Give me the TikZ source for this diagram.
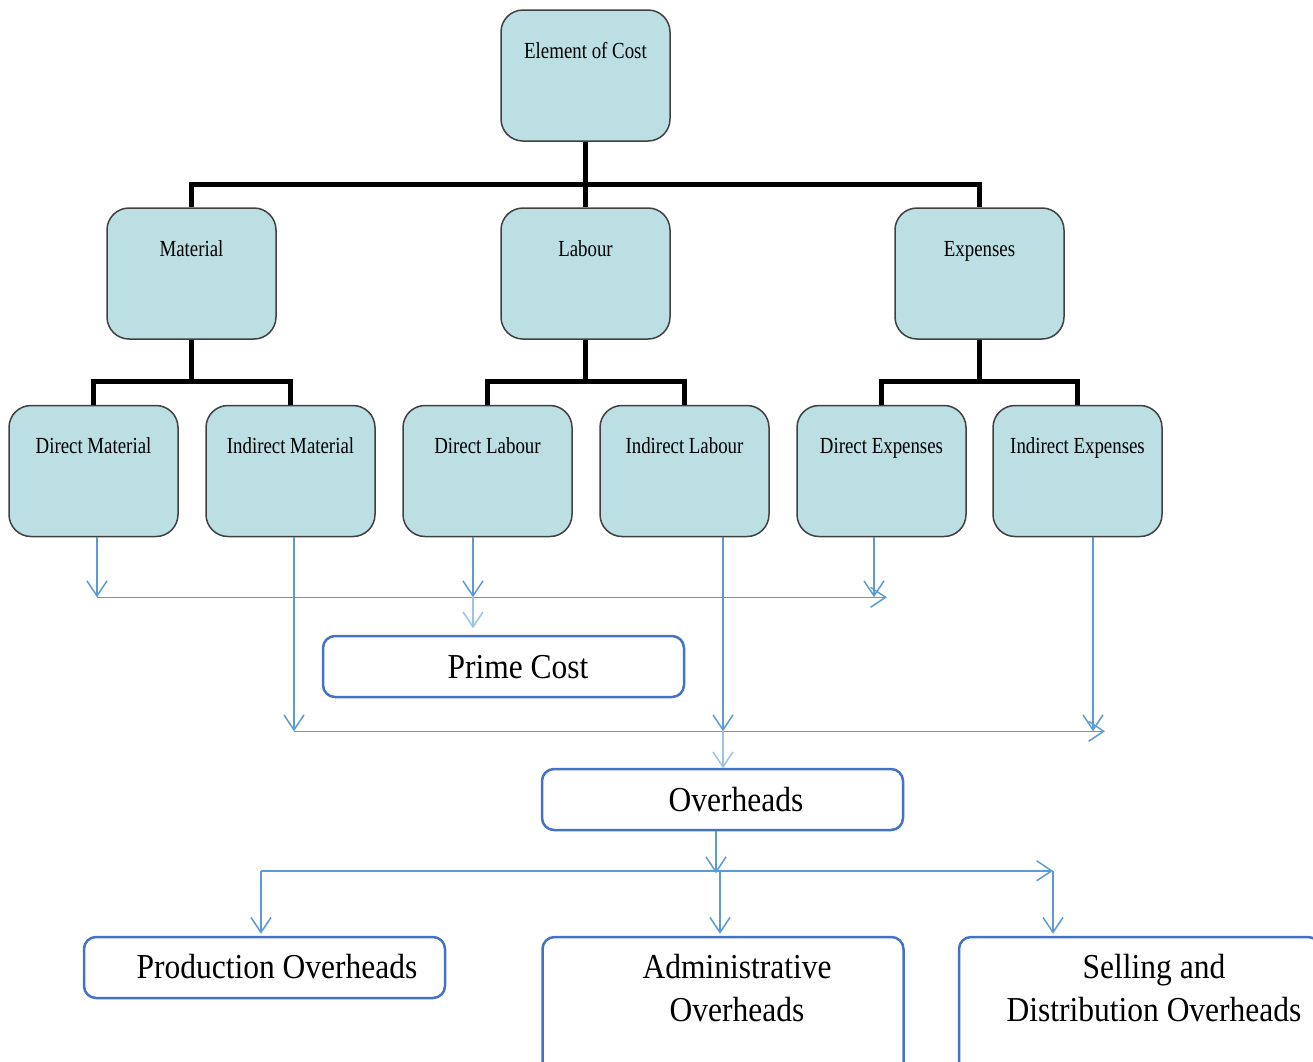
\documentclass[tikz,border=0pt]{standalone}
\usepackage{fontspec}
\setmainfont{Liberation Serif}
\newfontfamily\boxserif[FakeStretch=0.82]{Liberation Serif}
\newfontfamily\sumserif[FakeStretch=0.9]{Liberation Serif}
\usetikzlibrary{arrows.meta,calc}

\definecolor{tealfill}{HTML}{BBDFE3}
\definecolor{boxedge}{HTML}{404040}
\definecolor{sumedge}{HTML}{4472C4}
\definecolor{flowblue}{HTML}{5B9BD5}
\definecolor{flowpale}{HTML}{9DC3E6}

\tikzset{
  costbox/.style={draw=boxedge, fill=tealfill, line width=1.5pt, rounded corners=22pt,
    minimum width=169pt, minimum height=131pt, inner sep=0pt},
  costlabel/.style={font=\boxserif\fontsize{23}{23}\selectfont, anchor=base, inner sep=0pt},
  sumbox/.style={draw=sumedge, fill=white, line width=2.5pt, rounded corners=12pt,
    minimum width=361pt, minimum height=61pt, inner sep=0pt},
  sumlabel/.style={font=\sumserif\fontsize{35}{43}\selectfont, anchor=base, inner sep=0pt, align=center},
  tree/.style={line width=5pt, black},
  flow/.style={draw=flowblue, line width=1.5pt, -{Straight Barb[length=15pt, width=20pt]}},
  flowlite/.style={flow, draw=flowpale},
}

\begin{document}
\begin{tikzpicture}[x=1pt, y=-1pt]
\useasboundingbox (0,0) rectangle (1313,1061);
\clip (0,0) rectangle (1313,1061);

% cost elements
\node[costbox] (ec)  at (585.5, 75.5) {};
\node[costbox] (mat) at (191.5,273.5) {};
\node[costbox] (lab) at (585.5,273.5) {};
\node[costbox] (exp) at (979.5,273.5) {};
\node[costbox] (dm)  at (93.5, 471) {};
\node[costbox] (im)  at (290.5,471) {};
\node[costbox] (dl)  at (487.5,471) {};
\node[costbox] (il)  at (684.5,471) {};
\node[costbox] (de)  at (881.5,471) {};
\node[costbox] (ie)  at (1077.5,471) {};

\node[costlabel] at ($(ec.north)+(0,49)$)  {Element of Cost};
\node[costlabel] at ($(mat.north)+(0,49)$) {Material};
\node[costlabel] at ($(lab.north)+(0,49)$) {Labour};
\node[costlabel] at ($(exp.north)+(0,49)$) {Expenses};
\node[costlabel] at ($(dm.north)+(0,49)$)  {Direct Material};
\node[costlabel] at ($(im.north)+(0,49)$)  {Indirect Material};
\node[costlabel] at ($(dl.north)+(0,49)$)  {Direct Labour};
\node[costlabel] at ($(il.north)+(0,49)$)  {Indirect Labour};
\node[costlabel] at ($(de.north)+(0,49)$)  {Direct Expenses};
\node[costlabel] at ($(ie.north)+(0,49)$)  {Indirect Expenses};

% tree connectors
\coordinate (j0) at ($(ec.south)+(0,43)$);
\draw[tree] (ec.south) -- (lab.north);
\draw[tree] (mat.north) |- (j0) -| (exp.north);
\coordinate (j1) at ($(mat.south)+(0,42)$);
\draw[tree] (mat.south) -- (j1);
\draw[tree] (dm.north) |- (j1) -| (im.north);
\coordinate (j2) at ($(lab.south)+(0,42)$);
\draw[tree] (lab.south) -- (j2);
\draw[tree] (dl.north) |- (j2) -| (il.north);
\coordinate (j3) at ($(exp.south)+(0,42)$);
\draw[tree] (exp.south) -- (j3);
\draw[tree] (de.north) |- (j3) -| (ie.north);

% summary boxes
\node[sumbox] (pc) at (503.5,666.5) {};
\node[sumbox] (ov) at (722.5,799.5) {};
\node[sumbox] (po) at (264.5,967.5) {};
\node[sumbox, minimum height=140pt] (ao) at (723,1007) {};
\node[sumbox, minimum height=140pt] (sd) at (1139.5,1007) {};

\node[sumlabel] at ($(pc.south)+(14.5,-20)$) {Prime Cost};
\node[sumlabel] at ($(ov.south)+(13.5,-20)$) {Overheads};
\node[sumlabel] at ($(po.south)+(12.5,-21)$) {Production Overheads};
\node[sumlabel] at ($(ao.north)+(14,86)$) {Administrative\\Overheads};
\node[sumlabel] at ($(sd.north)+(14.5,86)$) {Selling and\\Distribution Overheads};

% prime cost flows
\coordinate (a1) at ($(dm.south)+(3.5,60)$);
\coordinate (a2) at ($(dl.south)+(-14.5,60)$);
\coordinate (a3) at ($(de.south)+(-7.5,60)$);
\coordinate (a4) at ($(de.south)+(5.5,60)$);
\draw[flow] ($(dm.south)+(3.5,0)$) -- (a1);
\draw[flow] ($(dl.south)+(-14.5,0)$) -- (a2);
\draw[flow] ($(de.south)+(-7.5,0)$) -- (a3);
\draw[flow] (a1) -- (a4);
\draw[flowlite] (a2) -- ($(a2)+(0,31)$);

% overhead flows
\coordinate (b1) at ($(im.south)+(3.5,194)$);
\coordinate (b2) at ($(il.south)+(38.5,194)$);
\coordinate (b3) at ($(ie.south)+(15.5,194)$);
\coordinate (b4) at ($(ie.south)+(27.5,194)$);
\draw[flow] ($(im.south)+(3.5,0)$) -- (b1);
\draw[flow] ($(il.south)+(38.5,0)$) -- (b2);
\draw[flow] ($(ie.south)+(15.5,0)$) -- (b3);
\draw[flow] (b1) -- (b4);
\draw[flowlite] (b2) -- ($(b2)+(0,37)$);

% overhead split
\coordinate (c0) at ($(ov.south)+(-6.5,42)$);
\coordinate (c1) at ($(po.north)+(-3.5,-65)$);
\coordinate (c2) at ($(ao.north)+(-3,-65)$);
\coordinate (c3) at ($(sd.north)+(-86.5,-65)$);
\draw[flow] ($(ov.south)+(-6.5,0)$) -- (c0);
\draw[flow] (c1) -- (c3);
\draw[flow] (c1) -- ($(c1)+(0,63)$);
\draw[flow] (c2) -- ($(c2)+(0,63)$);
\draw[flow] (c3) -- ($(c3)+(0,63)$);
\end{tikzpicture}
\end{document}
